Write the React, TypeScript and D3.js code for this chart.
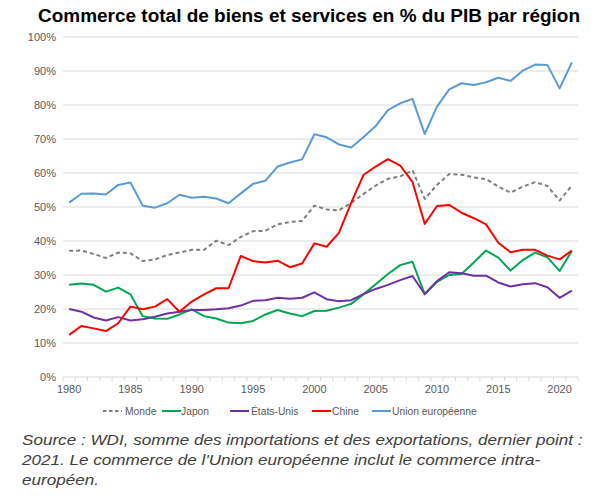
import React from "react";
import * as d3 from "d3";

const years: number[] = d3.range(1980, 2022);

const monde: number[] = [37.1, 37.2, 36.2, 35.0, 36.6, 36.4, 34.1, 34.6, 35.9, 36.6, 37.4, 37.4, 40.1, 38.8, 41.2, 42.9, 43.0, 44.9, 45.6, 45.9, 50.4, 49.3, 49.0, 51.2, 53.8, 56.3, 58.3, 59.0, 60.8, 52.4, 56.5, 59.7, 59.5, 58.7, 58.2, 56.0, 54.2, 56.0, 57.3, 56.2, 51.9, 56.3];
const japon: number[] = [27.1, 27.5, 27.1, 25.1, 26.3, 24.3, 17.9, 17.2, 17.1, 18.4, 19.9, 17.9, 17.2, 16.0, 15.8, 16.5, 18.4, 19.7, 18.7, 17.9, 19.4, 19.5, 20.4, 21.5, 24.3, 27.3, 30.3, 32.9, 33.9, 24.3, 28.0, 30.0, 30.3, 33.7, 37.2, 35.1, 31.3, 34.4, 36.6, 35.2, 31.2, 37.1];
const etatsUnis: number[] = [20.0, 19.2, 17.5, 16.6, 17.6, 16.6, 17.0, 17.7, 18.7, 19.2, 19.7, 19.7, 19.9, 20.2, 21.0, 22.4, 22.6, 23.3, 23.0, 23.3, 24.9, 22.9, 22.3, 22.6, 24.4, 25.9, 27.1, 28.5, 29.7, 24.4, 28.2, 30.8, 30.5, 29.8, 29.8, 27.8, 26.6, 27.3, 27.6, 26.4, 23.3, 25.4];
const chine: number[] = [12.4, 15.0, 14.3, 13.5, 15.8, 20.7, 19.9, 20.7, 22.9, 19.2, 22.2, 24.3, 26.1, 26.1, 35.6, 34.1, 33.7, 34.2, 32.3, 33.4, 39.3, 38.3, 42.4, 51.2, 59.4, 61.9, 64.1, 62.2, 57.4, 45.0, 50.3, 50.6, 48.3, 46.7, 44.9, 39.5, 36.7, 37.4, 37.4, 35.7, 34.6, 37.2];
const unionEuropeenne: number[] = [51.3, 53.9, 54.0, 53.7, 56.5, 57.2, 50.4, 49.8, 51.1, 53.6, 52.7, 53.0, 52.5, 51.1, 54.0, 56.8, 57.7, 61.9, 63.1, 64.0, 71.4, 70.5, 68.4, 67.5, 70.5, 73.8, 78.5, 80.5, 81.8, 71.5, 79.5, 84.6, 86.4, 85.9, 86.7, 88.0, 87.1, 90.1, 91.9, 91.8, 84.9, 92.5];

const yTicks: number[] = [0, 10, 20, 30, 40, 50, 60, 70, 80, 90, 100];
const xTickYears: number[] = [1980, 1985, 1990, 1995, 2000, 2005, 2010, 2015, 2020];

const seriesNames: string[] = ["Monde", "Japon", "États-Unis", "Chine", "Union européenne"];
const seriesColors: string[] = ["#7f7f7f", "#00a650", "#7030a0", "#ff0000", "#5b9bd5"];
const seriesData: number[][] = [monde, japon, etatsUnis, chine, unionEuropeenne];

const title = "Commerce total de biens et services en % du PIB par région";
const sourceLines: string[] = [
  "Source : WDI, somme des importations et des exportations, dernier point :",
  "2021. Le commerce de l'Union européenne inclut le commerce intra-",
  "européen.",
];

export default function App() {
  const W = 599;
  const H = 497;
  const left = 63;
  const right = 578;
  const top = 37;
  const bottom = 377;

  const x = d3.scaleBand<number>().domain(years).range([left, right]);
  const y = d3.scaleLinear().domain([0, 100]).range([bottom, top]);
  const xc = (yr: number) => (x(yr) as number) + x.bandwidth() / 2;

  const line = (vals: number[]) =>
    d3
      .line<number>()
      .x((_, i) => xc(years[i]))
      .y((v) => y(v))(vals) as string;

  const font = "Arial, 'Liberation Sans', sans-serif";
  const legendItems = [
    { lx: 103, tx: 125 },
    { lx: 162, tx: 181 },
    { lx: 230, tx: 251 },
    { lx: 312, tx: 332 },
    { lx: 372, tx: 392 },
  ];

  return (
    <svg
      width={W}
      height={H}
      style={{ position: "absolute", left: 0, top: 0, background: "#fff" }}
      fontFamily={font}
    >
      <rect x={0} y={0} width={W} height={H} fill="#fff" />
      <text
        x={38}
        y={22}
        fontSize={17.5}
        fontWeight="bold"
        fill="#000"
        textLength={542}
        lengthAdjust="spacingAndGlyphs"
      >
        {title}
      </text>
      {yTicks.map((t) => (
        <g key={t}>
          {t > 0 && (
            <line x1={left} x2={right} y1={y(t)} y2={y(t)} stroke="#d9d9d9" strokeWidth={1} />
          )}
          <text x={56} y={y(t)} dy="0.35em" textAnchor="end" fontSize={11} fill="#595959">
            {t}%
          </text>
        </g>
      ))}
      <line x1={left} x2={right} y1={bottom} y2={bottom} stroke="#d9d9d9" strokeWidth={1} />
      {years.concat([2022]).map((yr, i) => {
        const px = i < years.length ? (x(yr) as number) : right;
        return <line key={yr} x1={px} x2={px} y1={bottom} y2={bottom + 4} stroke="#d9d9d9" strokeWidth={1} />;
      })}
      {xTickYears.map((yr) => (
        <text key={yr} x={xc(yr)} y={393} textAnchor="middle" fontSize={11} fill="#595959">
          {yr}
        </text>
      ))}
      {seriesData.map((vals, i) => (
        <path
          key={seriesNames[i]}
          d={line(vals)}
          fill="none"
          stroke={seriesColors[i]}
          strokeWidth={2}
          strokeDasharray={i === 0 ? "4,3" : undefined}
          strokeLinejoin="round"
        />
      ))}
      {seriesNames.map((name, i) => (
        <g key={name}>
          <line
            x1={legendItems[i].lx}
            x2={legendItems[i].lx + 19}
            y1={411}
            y2={411}
            stroke={seriesColors[i]}
            strokeWidth={2}
            strokeDasharray={i === 0 ? "3.5,2.5" : undefined}
          />
          <text x={legendItems[i].tx} y={411} dy="0.35em" fontSize={10.3} fill="#595959">
            {name}
          </text>
        </g>
      ))}
      <g transform="translate(22,0) scale(1.14,1)">
        {sourceLines.map((s, i) => (
          <text key={i} x={0} y={445 + i * 20} fontSize={15} fontStyle="italic" fill="#404040">
            {s}
          </text>
        ))}
      </g>
    </svg>
  );
}
